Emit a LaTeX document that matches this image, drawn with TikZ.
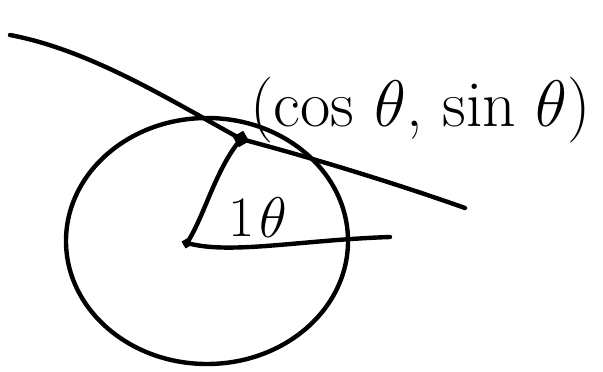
\documentclass[tikz,border=0pt]{standalone}
\usetikzlibrary{positioning}

\begin{document}
\begin{tikzpicture}[x=1pt,y=-1pt,line cap=round,line join=round,
  ink/.style={draw=black,line width=4.4pt},
  dot/.style={fill=black,rectangle,rotate=30,minimum size=12pt,inner sep=0pt},
  hand/.style={font=\Huge,scale=2.3,inner sep=0pt}]
\useasboundingbox (0,0) rectangle (603,372);

% ---- circle and its centre ----
\draw[ink] (207,241) ellipse (141 and 123);
\coordinate (O) at (187,243);
\node[dot,minimum size=8pt] (o) at (O) {};

% ---- point on the circle ----
\node[dot] (P) at (241,139) {};

% ---- tangent line ----
\coordinate (T1) at (10,35);
\coordinate (T2) at (465,208);
\draw[ink] (T1) .. controls (90,50) and (170,100) .. (P.center)
  .. controls (320,160) and (400,185) .. (T2);

% ---- radius and x-axis ----
\coordinate (A) at (390,237);
\draw[ink] (o.center) .. controls (205,215) and (215,170) .. (P.center);
\draw[ink] (o.center) .. controls (230,255) and (300,240) .. (A);

% ---- labels ----
\node[hand] (one) at (242,218) {1};
\node[hand,right=3pt of one] (th) {$\theta$};
\node[hand,scale=1.15,anchor=west] (lbl) at (250,110) {(cos $\theta$, sin $\theta$)};
\end{tikzpicture}
\end{document}
